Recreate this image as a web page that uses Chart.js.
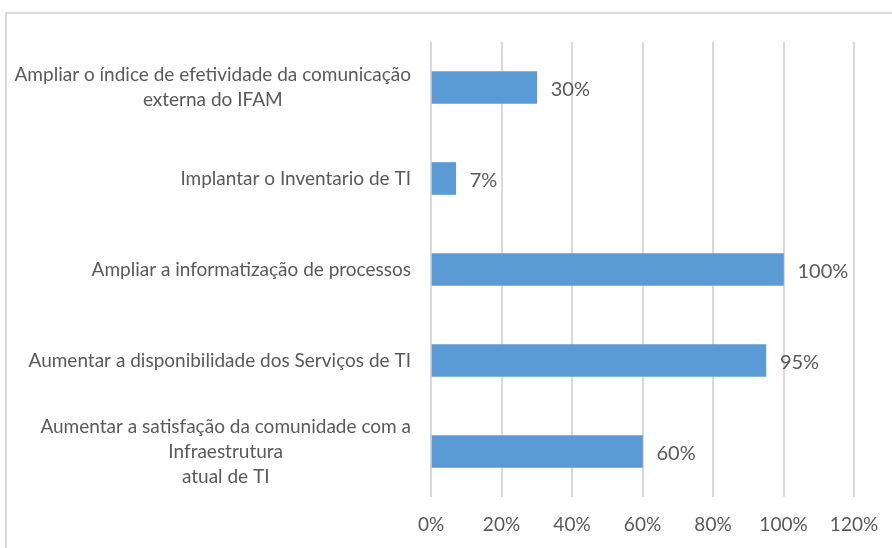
<!DOCTYPE html>
<html>
<head>
<meta charset="utf-8">
<script src="https://cdn.jsdelivr.net/npm/chart.js@4"></script>
<style>
  html, body { margin: 0; padding: 0; background: #fff; }
  #wrap { width: 892px; height: 548px; }
</style>
</head>
<body>
<div id="wrap"><canvas id="chart" width="892" height="548"></canvas></div>
<script>
// categories, top to bottom
const categories = [
  ['Ampliar o índice de efetividade da comunicação', 'externa do IFAM'],
  ['Implantar o Inventario de TI'],
  ['Ampliar a informatização de processos'],
  ['Aumentar a disponibilidade dos Serviços de TI'],
  ['Aumentar a satisfação da comunidade com a', 'Infraestrutura', 'atual de TI']
];
const values = [30, 7, 100, 95, 60];
const xMin = 0, xMax = 120, xStep = 20;

const textColor = '#595959';
const fontFamily = 'Lato, Carlito, "Liberation Sans", sans-serif';
Chart.defaults.font.family = fontFamily;
Chart.defaults.color = textColor;

// frame around the chart
const framePlugin = {
  id: 'frame',
  beforeDraw(chart) {
    const ctx = chart.ctx;
    ctx.save();
    ctx.strokeStyle = '#d9d9d9';
    ctx.lineWidth = 2;
    ctx.strokeRect(6, 13, 1000, 700);
    ctx.restore();
  }
};

// category labels, each block centred on its widest line, right edge fixed
const catLabels = {
  id: 'catLabels',
  afterDraw(chart) {
    const ctx = chart.ctx;
    const y = chart.scales.y;
    const right = 411, lineH = 25;
    ctx.save();
    ctx.font = '19px ' + fontFamily;
    ctx.fillStyle = textColor;
    ctx.textAlign = 'center';
    ctx.textBaseline = 'middle';
    categories.forEach((lines, i) => {
      const w = Math.max(...lines.map(l => ctx.measureText(l).width));
      const cx = right - w / 2;
      const cy = y.getPixelForValue(i);
      const y0 = cy - (lines.length - 1) * lineH / 2;
      lines.forEach((l, k) => ctx.fillText(l, cx, y0 + k * lineH));
    });
    ctx.restore();
  }
};

// value labels to the right of the bars
const valueLabels = {
  id: 'valueLabels',
  afterDatasetsDraw(chart) {
    const ctx = chart.ctx;
    const meta = chart.getDatasetMeta(0);
    ctx.save();
    ctx.font = '20px ' + fontFamily;
    ctx.fillStyle = textColor;
    ctx.textAlign = 'left';
    ctx.textBaseline = 'middle';
    meta.data.forEach((bar, i) => {
      ctx.fillText(values[i] + '%', bar.x + 14, bar.y + 2);
    });
    ctx.restore();
  }
};

new Chart(document.getElementById('chart'), {
  type: 'bar',
  data: {
    labels: categories.map(c => c.join(' ')),
    datasets: [{
      data: values,
      backgroundColor: '#5b9bd5',
      borderWidth: 0,
      barThickness: 32
    }]
  },
  options: {
    indexAxis: 'y',
    responsive: false,
    animation: false,
    layout: { padding: { top: 42, right: 38, bottom: 0, left: 0 } },
    plugins: { legend: { display: false }, tooltip: { enabled: false } },
    scales: {
      x: {
        min: xMin,
        max: xMax,
        ticks: {
          stepSize: xStep,
          padding: 16,
          font: { size: 19 },
          color: textColor,
          callback: v => v + '%'
        },
        grid: { color: '#d9d9d9', lineWidth: 2, drawTicks: false },
        border: { display: false },
        afterFit: s => { s.height = 51; s.paddingLeft = 0; s.paddingRight = 0; }
      },
      y: {
        ticks: { display: false },
        grid: { display: false },
        border: { display: false },
        afterFit: s => { s.width = 431; }
      }
    }
  },
  plugins: [framePlugin, catLabels, valueLabels]
});
</script>
</body>
</html>
